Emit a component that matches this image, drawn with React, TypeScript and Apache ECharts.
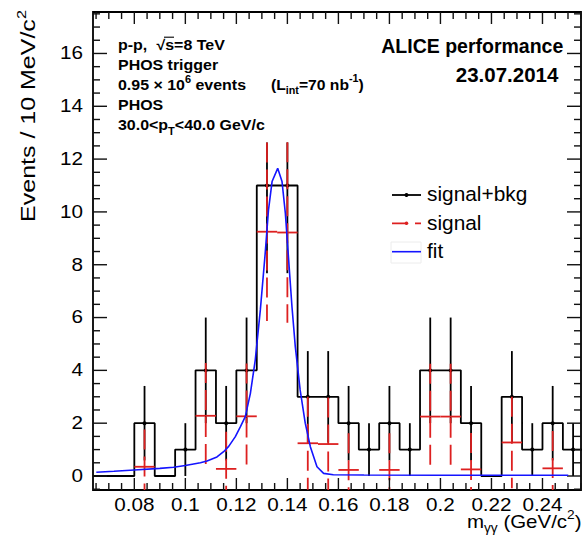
import React, { useEffect, useRef } from 'react';
import * as echarts from 'echarts';

// ---------- data ----------
const X_MIN = 0.0638;
const X_MAX = 0.2551;
const Y_MIN = -0.53;
const Y_MAX = 17.57;

const BIN_START = 0.064;
const BIN_WIDTH = 0.008;
// signal+bkg counts per bin, starting at BIN_START
const COUNTS = [0, 0, 2, 0, 1, 4, 2, 4, 11, 11, 3, 3, 2, 1, 2, 1, 4, 4, 2, 0, 3, 1, 2, 1];
const ERR_UP = [0, 0, 1.41, 0, 1, 2, 1.41, 2, 1.63, 1.63, 1.73, 1.73, 1.41, 1, 1.41, 1, 2, 2, 1.41, 0, 1.73, 1, 1.41, 1];
const ERR_DOWN = [0, 0, 1.41, 0, 1, 2, 1.41, 2, 3.32, 3.32, 1.73, 1.73, 1.41, 1, 1.41, 1, 2, 2, 1.41, 0, 1.73, 1, 1.41, 1];
// signal (bkg subtracted)
const SIGNAL = [null, null, 0.35, null, null, 2.28, 0.27, 2.26, 9.25, 9.22, 1.24, 1.21, 0.23, null, 0.23, null, 2.25, 2.25, 0.25, null, 1.27, null, 0.29, null];
const SIGNAL_ERR = [null, null, 1.41, null, null, 2.0, 1.41, 2.0, 3.38, 3.42, 1.76, 1.76, 1.39, null, 1.39, null, 2.0, 2.0, 1.38, null, 1.73, null, 1.41, null];
// fit curve
const FIT_X = [0.0651, 0.072, 0.08, 0.09, 0.0954, 0.1, 0.1059, 0.1085, 0.1124, 0.115, 0.117, 0.1196, 0.1216, 0.1235, 0.1255, 0.1274, 0.1294, 0.1313, 0.1326, 0.134, 0.1362, 0.1379, 0.1392, 0.1405, 0.1418, 0.1431, 0.145, 0.147, 0.149, 0.1516, 0.1542, 0.158, 0.17, 0.2, 0.2501];
const FIT_Y = [0.14, 0.18, 0.23, 0.29, 0.33, 0.4, 0.5, 0.57, 0.72, 0.92, 1.12, 1.49, 1.87, 2.25, 3.13, 4.39, 6.29, 8.43, 10.08, 11.15, 11.65, 11.15, 9.95, 8.18, 6.41, 4.9, 3.26, 2.0, 1.11, 0.35, 0.1, 0.05, 0.04, 0.03, 0.03];

const X_MAJOR_TICKS = [0.08, 0.1, 0.12, 0.14, 0.16, 0.18, 0.2, 0.22, 0.24];
const X_TICK_LABELS = ['0.08', '0.1', '0.12', '0.14', '0.16', '0.18', '0.2', '0.22', '0.24'];
const X_MINOR_TICKS = [0.065, 0.07, 0.075, 0.085, 0.09, 0.095, 0.105, 0.11, 0.115, 0.125, 0.13, 0.135, 0.145, 0.15, 0.155, 0.165, 0.17, 0.175, 0.185, 0.19, 0.195, 0.205, 0.21, 0.215, 0.225, 0.23, 0.235, 0.245, 0.25, 0.255];
const Y_MAJOR_TICKS = [0, 2, 4, 6, 8, 10, 12, 14, 16];
const Y_TICK_LABELS = ['0', '2', '4', '6', '8', '10', '12', '14', '16'];
const Y_MINOR_TICKS = [-0.5, 0.5, 1, 1.5, 2.5, 3, 3.5, 4.5, 5, 5.5, 6.5, 7, 7.5, 8.5, 9, 9.5, 10.5, 11, 11.5, 12.5, 13, 13.5, 14.5, 15, 15.5, 16.5, 17, 17.5];

// ---------- styles ----------
const FONT = '"Liberation Sans", Arial, Helvetica, sans-serif';
const RED = '#dd2020';
const BLUE = '#1414ff';
const LW = 1.8;

function txtStyle(o: any) {
  const s: any = { fill: '#000', ...o };
  if (o.align) s.textAlign = o.align;
  if (o.verticalAlign) s.textVerticalAlign = o.verticalAlign;
  return s;
}

function xTickSeries(values: number[], len: number) {
  return {
    type: 'custom', silent: true, clip: false, z: 5,
    data: values.map((v) => [v, Y_MIN]),
    renderItem: (params: any, api: any) => {
      const v = api.value(0);
      const b = api.coord([v, Y_MIN]);
      const t = api.coord([v, Y_MAX]);
      const st = { stroke: '#111', lineWidth: 1.4 };
      return {
        type: 'group',
        children: [
          { type: 'line', shape: { x1: b[0], y1: b[1], x2: b[0], y2: b[1] - len }, style: st },
          { type: 'line', shape: { x1: t[0], y1: t[1], x2: t[0], y2: t[1] + len }, style: st },
        ],
      };
    },
  };
}

function yTickSeries(values: number[], len: number) {
  return {
    type: 'custom', silent: true, clip: false, z: 5,
    data: values.map((v) => [X_MIN, v]),
    renderItem: (params: any, api: any) => {
      const v = api.value(1);
      const l = api.coord([X_MIN, v]);
      const r = api.coord([X_MAX, v]);
      const st = { stroke: '#111', lineWidth: 1.4 };
      return {
        type: 'group',
        children: [
          { type: 'line', shape: { x1: l[0], y1: l[1], x2: l[0] + len, y2: l[1] }, style: st },
          { type: 'line', shape: { x1: r[0], y1: r[1], x2: r[0] - len, y2: r[1] }, style: st },
        ],
      };
    },
  };
}

export default function App() {
  const ref = useRef<HTMLDivElement>(null);

  useEffect(() => {
    if (!ref.current) return;
    const chart = echarts.init(ref.current, null, { renderer: 'svg' });

    const lows = COUNTS.map((_, i) => BIN_START + i * BIN_WIDTH);
    const histData: number[][] = [[X_MIN, 0]];
    COUNTS.forEach((c, i) => histData.push([lows[i], c]));
    histData.push([lows[lows.length - 1] + BIN_WIDTH, COUNTS[COUNTS.length - 1]]);

    const dataPts = COUNTS.map((c, i) => [lows[i] + BIN_WIDTH / 2, c, ERR_UP[i], ERR_DOWN[i]]).filter((d) => d[1] > 0);
    const sigPts = SIGNAL.map((s, i) => (s == null ? null : [lows[i] + BIN_WIDTH / 2, s, SIGNAL_ERR[i] as number])).filter((d) => d != null) as number[][];

    const tickFont = `17.5px ${FONT}`;
    const boldF = `bold 14.5px ${FONT}`;

    const option: any = {
      animation: false,
      backgroundColor: '#fff',
      grid: {
        left: 93, top: 12, width: 488, height: 478,
        show: true, borderColor: '#000', borderWidth: LW, backgroundColor: 'transparent',
        containLabel: false, outerBoundsMode: 'none',
      },
      xAxis: {
        type: 'value', min: X_MIN, max: X_MAX,
        axisLine: { show: false }, axisTick: { show: false }, axisLabel: { show: false }, splitLine: { show: false },
      },
      yAxis: {
        type: 'value', min: Y_MIN, max: Y_MAX,
        axisLine: { show: false }, axisTick: { show: false }, axisLabel: { show: false }, splitLine: { show: false },
      },
      series: [
        xTickSeries(X_MAJOR_TICKS, 12),
        xTickSeries(X_MINOR_TICKS, 7),
        yTickSeries(Y_MAJOR_TICKS, 14),
        yTickSeries(Y_MINOR_TICKS, 7),
        {
          type: 'custom', silent: true, clip: false, z: 5,
          data: X_MAJOR_TICKS.map((v) => [v, Y_MIN]),
          renderItem: (params: any, api: any) => {
            const p = api.coord([api.value(0), Y_MIN]);
            return {
              type: 'text', x: p[0], y: p[1] + 15, scaleX: 1.18,
              style: txtStyle({ text: X_TICK_LABELS[params.dataIndex], font: tickFont, align: 'center', verticalAlign: 'middle' }),
            };
          },
        },
        {
          type: 'custom', silent: true, clip: false, z: 5,
          data: Y_MAJOR_TICKS.map((v) => [X_MIN, v]),
          renderItem: (params: any, api: any) => {
            const p = api.coord([X_MIN, api.value(1)]);
            return {
              type: 'text', x: p[0] - 10, y: p[1], scaleX: 1.18,
              style: txtStyle({ text: Y_TICK_LABELS[params.dataIndex], font: tickFont, align: 'right', verticalAlign: 'middle' }),
            };
          },
        },
        {
          type: 'line', step: 'end', data: histData, symbol: 'none', silent: true, clip: true, z: 2,
          lineStyle: { color: '#000', width: LW }, itemStyle: { color: '#000' },
        },
        {
          type: 'custom', silent: true, clip: true, z: 3,
          data: dataPts,
          renderItem: (params: any, api: any) => {
            const x = api.value(0), c = api.value(1), up = api.value(2), dn = api.value(3);
            const t = api.coord([x, Math.min(c + up, Y_MAX)]);
            const b = api.coord([x, Math.max(c - dn, Y_MIN)]);
            const p = api.coord([x, c]);
            return {
              type: 'group',
              children: [
                { type: 'line', shape: { x1: t[0], y1: t[1], x2: b[0], y2: b[1] }, style: { stroke: '#000', lineWidth: LW } },
                { type: 'circle', shape: { cx: p[0], cy: p[1], r: 2 }, style: { fill: '#000' } },
              ],
            };
          },
        },
        {
          type: 'custom', silent: true, clip: true, z: 4,
          data: sigPts,
          renderItem: (params: any, api: any) => {
            const x = api.value(0), s = api.value(1), e = api.value(2);
            const l = api.coord([x - BIN_WIDTH / 2, s]);
            const r = api.coord([x + BIN_WIDTH / 2, s]);
            const t = api.coord([x, Math.min(s + e, Y_MAX)]);
            const b = api.coord([x, Math.max(s - e, Y_MIN)]);
            return {
              type: 'group',
              children: [
                { type: 'line', shape: { x1: t[0], y1: t[1], x2: b[0], y2: b[1] }, style: { stroke: RED, lineWidth: LW, lineDash: [20, 7] } },
                { type: 'line', shape: { x1: l[0], y1: l[1], x2: r[0], y2: r[1] }, style: { stroke: RED, lineWidth: LW } },
              ],
            };
          },
        },
        {
          type: 'line', data: FIT_X.map((x, i) => [x, FIT_Y[i]]), symbol: 'none', silent: true, clip: true, z: 6,
          lineStyle: { color: BLUE, width: 1.6 }, itemStyle: { color: BLUE },
        },
      ],
      graphic: [
        // left info block
        { type: 'text', x: 118, y: 45, scaleX: 1.1, style: txtStyle({ text: 'p-p,', font: boldF, align: 'left', verticalAlign: 'middle' }) },
        { type: 'text', x: 156.5, y: 45, scaleX: 1.1, style: txtStyle({ text: '√s=8 TeV', font: boldF, align: 'left', verticalAlign: 'middle' }) },
        { type: 'line', shape: { x1: 164, y1: 37.2, x2: 174, y2: 37.2 }, style: { stroke: '#000', lineWidth: 1.1 } },
        { type: 'text', x: 118, y: 65, scaleX: 1.1, style: txtStyle({ text: 'PHOS trigger', font: boldF, align: 'left', verticalAlign: 'middle' }) },
        {
          type: 'text', x: 118, y: 85, scaleX: 1.1,
          style: txtStyle({
            text: '{n|0.95 × 10}{sup|6}{n| events}', font: boldF, align: 'left', verticalAlign: 'middle',
            rich: {
              n: { font: boldF, lineHeight: 22, verticalAlign: 'middle' },
              sup: { font: `bold 10px ${FONT}`, lineHeight: 22, verticalAlign: 'top' },
            },
          }),
        },
        {
          type: 'text', x: 271, y: 85, scaleX: 1.08,
          style: txtStyle({
            text: '{n|(L}{sub|int}{n|=70 nb}{sup|-1}{n|)}', font: boldF, align: 'left', verticalAlign: 'middle',
            rich: {
              n: { font: boldF, lineHeight: 22, verticalAlign: 'middle' },
              sup: { font: `bold 10px ${FONT}`, lineHeight: 22, verticalAlign: 'top' },
              sub: { font: `bold 10px ${FONT}`, lineHeight: 22, verticalAlign: 'bottom' },
            },
          }),
        },
        { type: 'text', x: 118, y: 105, scaleX: 1.1, style: txtStyle({ text: 'PHOS', font: boldF, align: 'left', verticalAlign: 'middle' }) },
        {
          type: 'text', x: 118, y: 125, scaleX: 1.1,
          style: txtStyle({
            text: '{n|30.0<p}{sub|T}{n|<40.0 GeV/c}', font: boldF, align: 'left', verticalAlign: 'middle',
            rich: {
              n: { font: boldF, lineHeight: 22, verticalAlign: 'middle' },
              sub: { font: `bold 10px ${FONT}`, lineHeight: 22, verticalAlign: 'bottom' },
            },
          }),
        },
        // right block
        { type: 'text', x: 563.3, y: 45.5, style: txtStyle({ text: 'ALICE performance', font: `bold 19.5px ${FONT}`, align: 'right', verticalAlign: 'middle' }) },
        { type: 'text', x: 558.3, y: 75, scaleX: 1.05, style: txtStyle({ text: '23.07.2014', font: `bold 19.5px ${FONT}`, align: 'right', verticalAlign: 'middle' }) },
        // legend
        { type: 'line', shape: { x1: 392, y1: 195, x2: 421, y2: 195 }, style: { stroke: '#000', lineWidth: LW } },
        { type: 'circle', shape: { cx: 406.5, cy: 195, r: 2 }, style: { fill: '#000' } },
        { type: 'line', shape: { x1: 392, y1: 223.3, x2: 421, y2: 223.3 }, style: { stroke: RED, lineWidth: LW, lineDash: [15, 8] } },
        { type: 'circle', shape: { cx: 406.5, cy: 223.3, r: 1.8 }, style: { fill: RED } },
        { type: 'rect', shape: { x: 391, y: 242, width: 30, height: 21 }, style: { fill: 'none', stroke: '#ececec', lineWidth: 1 } },
        { type: 'line', shape: { x1: 392, y1: 251.7, x2: 421, y2: 251.7 }, style: { stroke: BLUE, lineWidth: 1.6 } },
        { type: 'text', x: 427, y: 194.5, scaleX: 1.07, style: txtStyle({ text: 'signal+bkg', font: `19.5px ${FONT}`, align: 'left', verticalAlign: 'middle' }) },
        { type: 'text', x: 427, y: 223, scaleX: 1.07, style: txtStyle({ text: 'signal', font: `19.5px ${FONT}`, align: 'left', verticalAlign: 'middle' }) },
        { type: 'text', x: 427, y: 251, scaleX: 1.07, style: txtStyle({ text: 'fit', font: `19.5px ${FONT}`, align: 'left', verticalAlign: 'middle' }) },
        // axis titles
        {
          type: 'text', x: 581.5, y: 521, scaleX: 1.1,
          style: txtStyle({
            text: '{n|m}{sub|γγ}{n| (GeV/c}{sup|2}{n|)}', font: `18.6px ${FONT}`, align: 'right', verticalAlign: 'middle',
            rich: {
              n: { font: `18.6px ${FONT}`, lineHeight: 26, verticalAlign: 'middle' },
              sup: { font: `12.5px ${FONT}`, lineHeight: 26, verticalAlign: 'top' },
              sub: { font: `12.5px ${FONT}`, lineHeight: 26, verticalAlign: 'bottom' },
            },
          }),
        },
        {
          type: 'text', x: 28, y: 116, rotation: Math.PI / 2, scaleX: 1.25,
          style: txtStyle({
            text: '{n|Events / 10 MeV/c}{sup|2}', font: `20px ${FONT}`, align: 'center', verticalAlign: 'middle',
            rich: {
              n: { font: `20px ${FONT}`, lineHeight: 26, verticalAlign: 'middle' },
              sup: { font: `13px ${FONT}`, lineHeight: 26, verticalAlign: 'top' },
            },
          }),
        },
      ],
    };

    chart.setOption(option);
    return () => chart.dispose();
  }, []);

  return (
    <div
      ref={ref}
      style={{ position: 'absolute', left: 0, top: 0, width: 582, height: 538, background: '#fff' }}
    />
  );
}
